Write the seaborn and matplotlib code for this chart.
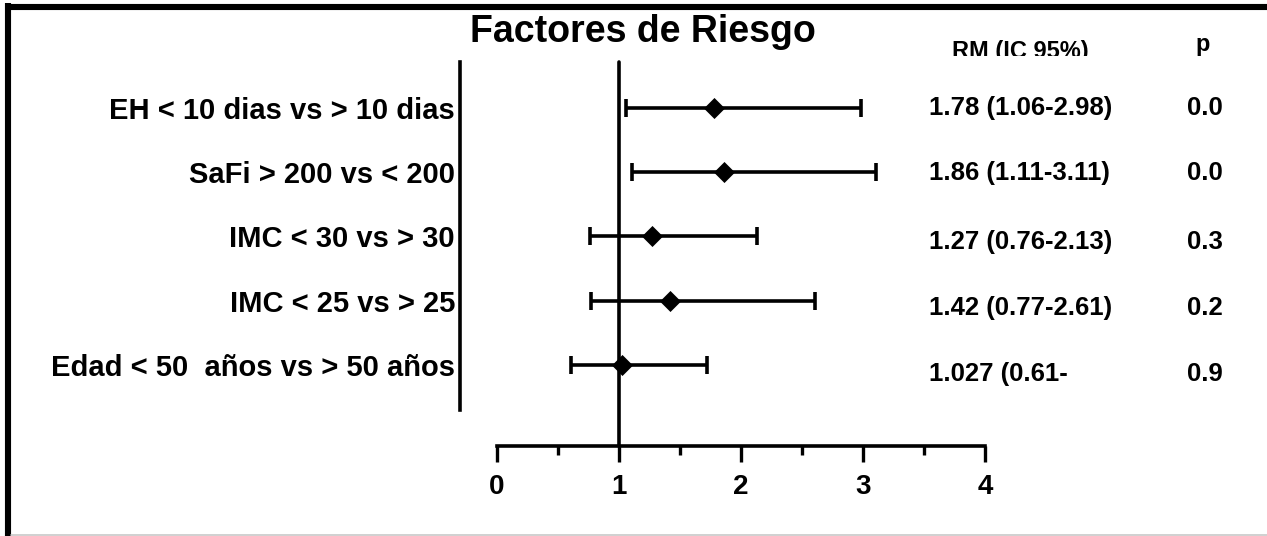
import matplotlib
matplotlib.use("Agg")
import matplotlib.pyplot as plt
import seaborn as sns
import pandas as pd
from matplotlib.lines import Line2D
from matplotlib.transforms import Bbox, TransformedBbox

# ---- data ----
categories = ["EH < 10 dias vs > 10 dias",
              "SaFi > 200 vs < 200",
              "IMC < 30 vs > 30",
              "IMC < 25 vs > 25",
              "Edad < 50  años vs > 50 años"]
rm = [1.78, 1.86, 1.27, 1.42, 1.027]
ci_low = [1.06, 1.11, 0.76, 0.77, 0.61]
ci_high = [2.98, 3.11, 2.13, 2.61, 1.72]
rm_labels = ["1.78 (1.06-2.98)", "1.86 (1.11-3.11)", "1.27 (0.76-2.13)",
             "1.42 (0.77-2.61)", "1.027 (0.61-"]
p_labels = ["0.0", "0.0", "0.3", "0.2", "0.9"]
x_ticks = [0, 1, 2, 3, 4]
x_minor = [0.5, 1.5, 2.5, 3.5]
title = "Factores de Riesgo"
header_rm = "RM (IC 95%)"
header_p = "p"

sns.set_style("white")
plt.rcParams['font.family'] = ['Liberation Sans', 'DejaVu Sans']
plt.rcParams['font.weight'] = 'bold'
for k in ['text.color', 'xtick.color', 'ytick.color', 'axes.labelcolor',
          'axes.edgecolor']:
    plt.rcParams[k] = 'black'

W, H = 1267, 536
fig = plt.figure(figsize=(W / 100, H / 100), dpi=100)
fig.patch.set_facecolor('white')


def fx(px):
    return px / W


def fy(py):
    return 1 - py / H


ax = fig.add_axes([fx(460), fy(446), (985 - 460) / W, (446 - 62) / H])
ax.set_facecolor('white')

df = pd.DataFrame({"cat": categories, "pos": list(range(len(categories))),
                   "rm": rm, "lo": ci_low, "hi": ci_high})

ax.errorbar(df["rm"], df["pos"],
            xerr=[df["rm"] - df["lo"], df["hi"] - df["rm"]],
            fmt='none', ecolor='black', elinewidth=2.6, capsize=6.8,
            capthick=2.6, zorder=2)
sns.scatterplot(data=df, x="rm", y="pos", marker='D', s=115, color='black',
                edgecolor='black', linewidth=0, ax=ax, zorder=4, legend=False)
ax.axvline(1, color='black', lw=2.6, zorder=3, clip_on=False)

ax.set_xlim((460 - 497) / 122, 4.0)
ax.set_ylim(5.26, -0.71)
ax.set_xlabel("")
ax.set_ylabel("")

ax.set_yticks(df["pos"], categories)
ax.tick_params(axis='y', length=0, pad=3.6, labelsize=21, labelcolor='black')
ax.set_xticks(x_ticks, [str(t) for t in x_ticks])
ax.set_xticks(x_minor, minor=True)
ax.tick_params(axis='x', which='major', length=11.5, width=2.4, pad=9,
               labelsize=20, direction='out', color='black', bottom=True,
               labelcolor='black')
ax.tick_params(axis='x', which='minor', length=6.5, width=2.4,
               direction='out', color='black', bottom=True)
for lbl in ax.get_xticklabels() + ax.get_yticklabels():
    lbl.set_fontweight('bold')

for s in ['top', 'right']:
    ax.spines[s].set_visible(False)
ax.spines['left'].set_bounds(-0.71, 4.70)
ax.spines['bottom'].set_bounds(0, 4)
for s in ['left', 'bottom']:
    ax.spines[s].set_linewidth(2.6)
    ax.spines[s].set_color('black')

# title
fig.text(fx(643), fy(42), title, ha='center', va='baseline',
         fontsize=27, fontweight='bold', color='black')

# headers (clipped at the bottom as in the reference)
clip = TransformedBbox(Bbox([[0, fy(56)], [1, 1]]), fig.transFigure)
t1 = fig.text(fx(952), fy(58), header_rm, ha='left', va='baseline',
              fontsize=17, fontweight='bold', clip_on=True, color='black')
t1.set_clip_box(clip)
t2 = fig.text(fx(1195), fy(51), header_p, ha='left', va='baseline',
              fontsize=17, fontweight='bold', clip_on=True, color='black')
t2.set_clip_box(clip)

baselines = [115, 180, 249, 315, 381]
for lab, pl, b in zip(rm_labels, p_labels, baselines):
    fig.text(fx(929), fy(b), lab, ha='left', va='baseline',
             fontsize=18.5, fontweight='bold', color='black')
    fig.text(fx(1187), fy(b), pl, ha='left', va='baseline',
             fontsize=18.5, fontweight='bold', color='black')

# frame lines
fig.add_artist(Line2D([fx(8), fx(8)], [fy(536), fy(3)], color='black',
                      lw=4.4, transform=fig.transFigure, solid_capstyle='butt'))
fig.add_artist(Line2D([fx(5), fx(1267)], [fy(6.5), fy(6.5)], color='black',
                      lw=4.4, transform=fig.transFigure, solid_capstyle='butt'))
fig.add_artist(Line2D([fx(11), fx(1267)], [fy(534.5), fy(534.5)],
                      color='#c8c8c8', lw=1.2, transform=fig.transFigure))

fig.savefig("out.png", dpi=100)
